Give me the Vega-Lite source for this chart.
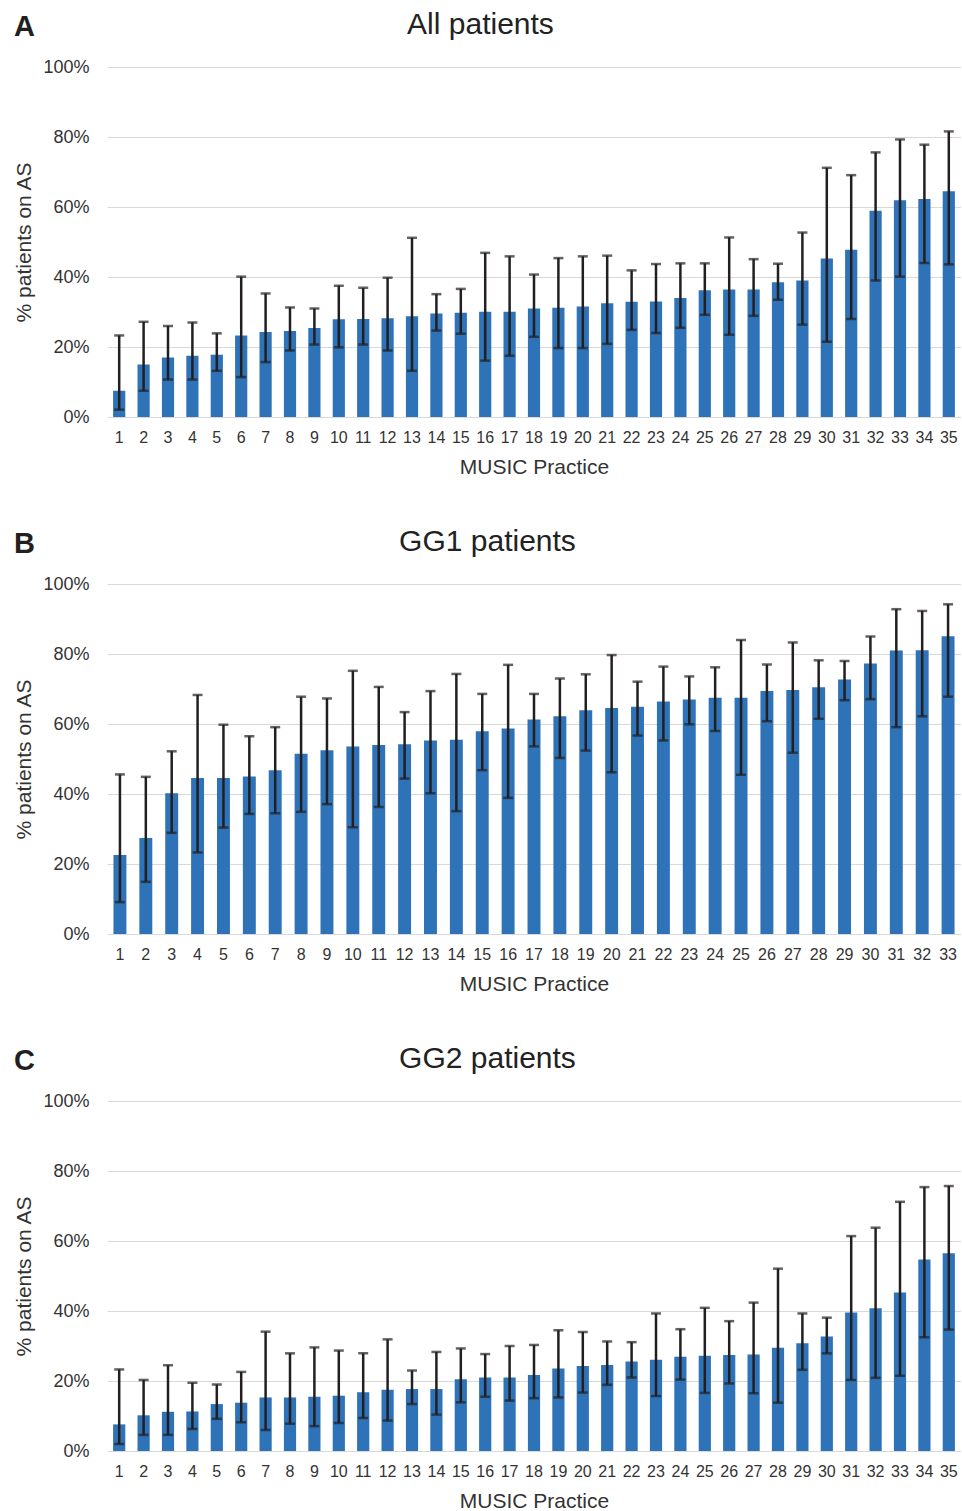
{
  "$schema": "https://vega.github.io/schema/vega-lite/v6.json",
  "padding": {"left": 13, "top": 10, "right": 0, "bottom": 0},
  "spacing": 50,
  "datasets": {
    "all": [
      {"p":1,"v":7.5,"lo":2.1,"hi":23.3},{"p":2,"v":15.0,"lo":7.5,"hi":27.2},{"p":3,"v":17.0,"lo":10.7,"hi":26.0},{"p":4,"v":17.5,"lo":10.7,"hi":27.0},{"p":5,"v":17.8,"lo":13.2,"hi":23.9},
      {"p":6,"v":23.3,"lo":11.4,"hi":40.1},{"p":7,"v":24.3,"lo":15.7,"hi":35.3},{"p":8,"v":24.6,"lo":19.0,"hi":31.3},{"p":9,"v":25.4,"lo":20.7,"hi":31.0},{"p":10,"v":27.9,"lo":19.9,"hi":37.5},
      {"p":11,"v":28.0,"lo":20.7,"hi":36.9},{"p":12,"v":28.2,"lo":19.0,"hi":39.8},{"p":13,"v":28.8,"lo":13.2,"hi":51.2},{"p":14,"v":29.6,"lo":24.7,"hi":35.1},{"p":15,"v":29.8,"lo":23.8,"hi":36.6},
      {"p":16,"v":30.1,"lo":16.1,"hi":46.9},{"p":17,"v":30.1,"lo":17.5,"hi":45.9},{"p":18,"v":31.0,"lo":22.9,"hi":40.7},{"p":19,"v":31.2,"lo":19.7,"hi":45.4},{"p":20,"v":31.6,"lo":19.7,"hi":45.9},
      {"p":21,"v":32.5,"lo":20.9,"hi":46.1},{"p":22,"v":32.9,"lo":24.9,"hi":41.9},{"p":23,"v":33.0,"lo":24.0,"hi":43.7},{"p":24,"v":34.0,"lo":25.5,"hi":43.9},{"p":25,"v":36.2,"lo":29.2,"hi":43.9},
      {"p":26,"v":36.4,"lo":23.5,"hi":51.3},{"p":27,"v":36.4,"lo":28.9,"hi":45.1},{"p":28,"v":38.5,"lo":33.5,"hi":43.8},{"p":29,"v":39.0,"lo":26.4,"hi":52.7},{"p":30,"v":45.3,"lo":21.5,"hi":71.2},
      {"p":31,"v":47.8,"lo":28.0,"hi":69.1},{"p":32,"v":58.9,"lo":39.0,"hi":75.6},{"p":33,"v":61.9,"lo":40.1,"hi":79.3},{"p":34,"v":62.3,"lo":44.0,"hi":77.8},{"p":35,"v":64.5,"lo":43.6,"hi":81.6}
    ],
    "gg1": [
      {"p":1,"v":22.6,"lo":9.1,"hi":45.6},{"p":2,"v":27.4,"lo":14.9,"hi":44.9},{"p":3,"v":40.2,"lo":28.9,"hi":52.2},{"p":4,"v":44.6,"lo":23.3,"hi":68.3},{"p":5,"v":44.6,"lo":30.4,"hi":59.8},
      {"p":6,"v":45.0,"lo":34.3,"hi":56.5},{"p":7,"v":46.8,"lo":34.5,"hi":59.1},{"p":8,"v":51.5,"lo":34.9,"hi":67.8},{"p":9,"v":52.5,"lo":37.1,"hi":67.3},{"p":10,"v":53.6,"lo":30.5,"hi":75.2},
      {"p":11,"v":54.0,"lo":36.3,"hi":70.6},{"p":12,"v":54.2,"lo":44.4,"hi":63.4},{"p":13,"v":55.3,"lo":40.2,"hi":69.4},{"p":14,"v":55.5,"lo":35.1,"hi":74.3},{"p":15,"v":57.9,"lo":46.8,"hi":68.6},
      {"p":16,"v":58.7,"lo":38.9,"hi":76.9},{"p":17,"v":61.3,"lo":53.6,"hi":68.6},{"p":18,"v":62.2,"lo":50.3,"hi":73.0},{"p":19,"v":63.9,"lo":52.4,"hi":74.2},{"p":20,"v":64.6,"lo":46.2,"hi":79.7},
      {"p":21,"v":64.9,"lo":56.7,"hi":72.1},{"p":22,"v":66.4,"lo":55.3,"hi":76.4},{"p":23,"v":67.0,"lo":59.9,"hi":73.6},{"p":24,"v":67.5,"lo":58.0,"hi":76.2},{"p":25,"v":67.5,"lo":45.5,"hi":84.0},
      {"p":26,"v":69.4,"lo":60.8,"hi":77.0},{"p":27,"v":69.7,"lo":51.8,"hi":83.3},{"p":28,"v":70.5,"lo":61.5,"hi":78.2},{"p":29,"v":72.7,"lo":66.8,"hi":78.0},{"p":30,"v":77.3,"lo":67.1,"hi":85.0},
      {"p":31,"v":81.0,"lo":59.1,"hi":92.8},{"p":32,"v":81.1,"lo":62.2,"hi":92.3},{"p":33,"v":85.1,"lo":67.8,"hi":94.2}
    ],
    "gg2": [
      {"p":1,"v":7.6,"lo":2.0,"hi":23.3},{"p":2,"v":10.2,"lo":4.6,"hi":20.3},{"p":3,"v":11.2,"lo":4.6,"hi":24.5},{"p":4,"v":11.3,"lo":6.3,"hi":19.5},{"p":5,"v":13.4,"lo":9.2,"hi":19.0},
      {"p":6,"v":13.8,"lo":8.2,"hi":22.6},{"p":7,"v":15.3,"lo":6.0,"hi":34.1},{"p":8,"v":15.3,"lo":7.8,"hi":27.9},{"p":9,"v":15.5,"lo":7.1,"hi":29.6},{"p":10,"v":15.8,"lo":8.0,"hi":28.7},
      {"p":11,"v":16.8,"lo":9.4,"hi":27.9},{"p":12,"v":17.5,"lo":8.7,"hi":31.9},{"p":13,"v":17.7,"lo":13.4,"hi":23.0},{"p":14,"v":17.7,"lo":10.4,"hi":28.3},{"p":15,"v":20.5,"lo":13.9,"hi":29.3},
      {"p":16,"v":21.0,"lo":15.5,"hi":27.7},{"p":17,"v":21.0,"lo":14.4,"hi":30.0},{"p":18,"v":21.7,"lo":15.1,"hi":30.3},{"p":19,"v":23.6,"lo":15.3,"hi":34.5},{"p":20,"v":24.3,"lo":16.7,"hi":34.0},
      {"p":21,"v":24.6,"lo":18.9,"hi":31.3},{"p":22,"v":25.6,"lo":21.0,"hi":31.1},{"p":23,"v":26.1,"lo":15.7,"hi":39.3},{"p":24,"v":26.9,"lo":20.4,"hi":34.8},{"p":25,"v":27.2,"lo":16.6,"hi":40.9},
      {"p":26,"v":27.4,"lo":19.3,"hi":37.1},{"p":27,"v":27.6,"lo":16.5,"hi":42.4},{"p":28,"v":29.5,"lo":13.8,"hi":52.1},{"p":29,"v":30.8,"lo":23.2,"hi":39.3},{"p":30,"v":32.7,"lo":27.9,"hi":38.1},
      {"p":31,"v":39.6,"lo":20.3,"hi":61.4},{"p":32,"v":40.8,"lo":20.9,"hi":63.8},{"p":33,"v":45.3,"lo":21.5,"hi":71.2},{"p":34,"v":54.7,"lo":32.5,"hi":75.4},{"p":35,"v":56.5,"lo":34.7,"hi":75.7}
    ]
  },
  "vconcat": [
    {
      "title": {"text": "A", "anchor": "start", "frame": "bounds", "fontSize": 29, "fontWeight": "bold", "offset": -32, "color": "#231F20"},
      "vconcat": [{
        "title": {"text": "All patients", "anchor": "middle", "frame": "bounds", "dx": -7},
        "width": 854, "height": 350,
        "data": {"name": "all"},
        "encoding": {"x": {"field": "p", "type": "ordinal", "title": "MUSIC Practice", "scale": {"paddingInner": 0.5, "paddingOuter": 0.25}}},
        "layer": [
          {"mark": {"type": "bar", "color": "#2E72B8"}, "encoding": {"y": {"field": "v", "type": "quantitative", "title": "% patients on AS", "scale": {"domain": [0, 100]}, "axis": {"values": [0, 20, 40, 60, 80, 100]}}}},
          {"mark": {"type": "rule", "color": "#231F20", "strokeWidth": 2.5}, "encoding": {"y": {"field": "lo", "type": "quantitative", "title": "% patients on AS"}, "y2": {"field": "hi"}}},
          {"mark": {"type": "tick", "color": "#231F20", "thickness": 2.5, "size": 10}, "encoding": {"y": {"field": "lo", "type": "quantitative", "title": "% patients on AS"}}},
          {"mark": {"type": "tick", "color": "#231F20", "thickness": 2.5, "size": 10}, "encoding": {"y": {"field": "hi", "type": "quantitative", "title": "% patients on AS"}}}
        ]
      }]
    },
    {
      "title": {"text": "B", "anchor": "start", "frame": "bounds", "fontSize": 29, "fontWeight": "bold", "offset": -32, "color": "#231F20"},
      "vconcat": [{
        "title": {"text": "GG1 patients", "anchor": "middle", "frame": "bounds"},
        "width": 854, "height": 350,
        "data": {"name": "gg1"},
        "encoding": {"x": {"field": "p", "type": "ordinal", "title": "MUSIC Practice", "scale": {"paddingInner": 0.5, "paddingOuter": 0.25}}},
        "layer": [
          {"mark": {"type": "bar", "color": "#2E72B8"}, "encoding": {"y": {"field": "v", "type": "quantitative", "title": "% patients on AS", "scale": {"domain": [0, 100]}, "axis": {"values": [0, 20, 40, 60, 80, 100]}}}},
          {"mark": {"type": "rule", "color": "#231F20", "strokeWidth": 2.5}, "encoding": {"y": {"field": "lo", "type": "quantitative", "title": "% patients on AS"}, "y2": {"field": "hi"}}},
          {"mark": {"type": "tick", "color": "#231F20", "thickness": 2.5, "size": 10}, "encoding": {"y": {"field": "lo", "type": "quantitative", "title": "% patients on AS"}}},
          {"mark": {"type": "tick", "color": "#231F20", "thickness": 2.5, "size": 10}, "encoding": {"y": {"field": "hi", "type": "quantitative", "title": "% patients on AS"}}}
        ]
      }]
    },
    {
      "title": {"text": "C", "anchor": "start", "frame": "bounds", "fontSize": 29, "fontWeight": "bold", "offset": -32, "color": "#231F20"},
      "vconcat": [{
        "title": {"text": "GG2 patients", "anchor": "middle", "frame": "bounds"},
        "width": 854, "height": 350,
        "data": {"name": "gg2"},
        "encoding": {"x": {"field": "p", "type": "ordinal", "title": "MUSIC Practice", "scale": {"paddingInner": 0.5, "paddingOuter": 0.25}}},
        "layer": [
          {"mark": {"type": "bar", "color": "#2E72B8"}, "encoding": {"y": {"field": "v", "type": "quantitative", "title": "% patients on AS", "scale": {"domain": [0, 100]}, "axis": {"values": [0, 20, 40, 60, 80, 100]}}}},
          {"mark": {"type": "rule", "color": "#231F20", "strokeWidth": 2.5}, "encoding": {"y": {"field": "lo", "type": "quantitative", "title": "% patients on AS"}, "y2": {"field": "hi"}}},
          {"mark": {"type": "tick", "color": "#231F20", "thickness": 2.5, "size": 10}, "encoding": {"y": {"field": "lo", "type": "quantitative", "title": "% patients on AS"}}},
          {"mark": {"type": "tick", "color": "#231F20", "thickness": 2.5, "size": 10}, "encoding": {"y": {"field": "hi", "type": "quantitative", "title": "% patients on AS"}}}
        ]
      }]
    }
  ],
  "config": {
    "font": "Liberation Sans",
    "view": {"stroke": null},
    "title": {"fontSize": 30, "fontWeight": "normal", "color": "#222222", "offset": 18},
    "axisX": {"labelAngle": 0, "labelFontSize": 16, "labelColor": "#333333", "ticks": false, "tickSize": 0, "domain": false, "grid": false, "labelPadding": 12, "titleFontSize": 21, "titleFontWeight": "normal", "titleColor": "#333333", "titlePadding": 11},
    "axisY": {"labelFontSize": 18, "labelColor": "#333333", "ticks": false, "tickSize": 0, "domain": false, "gridColor": "#D9D9D9", "gridWidth": 1.2, "labelPadding": 18, "titleFontSize": 21, "titleFontWeight": "normal", "titleColor": "#333333", "titlePadding": 8, "labelExpr": "datum.value + '%'"}
  }
}
